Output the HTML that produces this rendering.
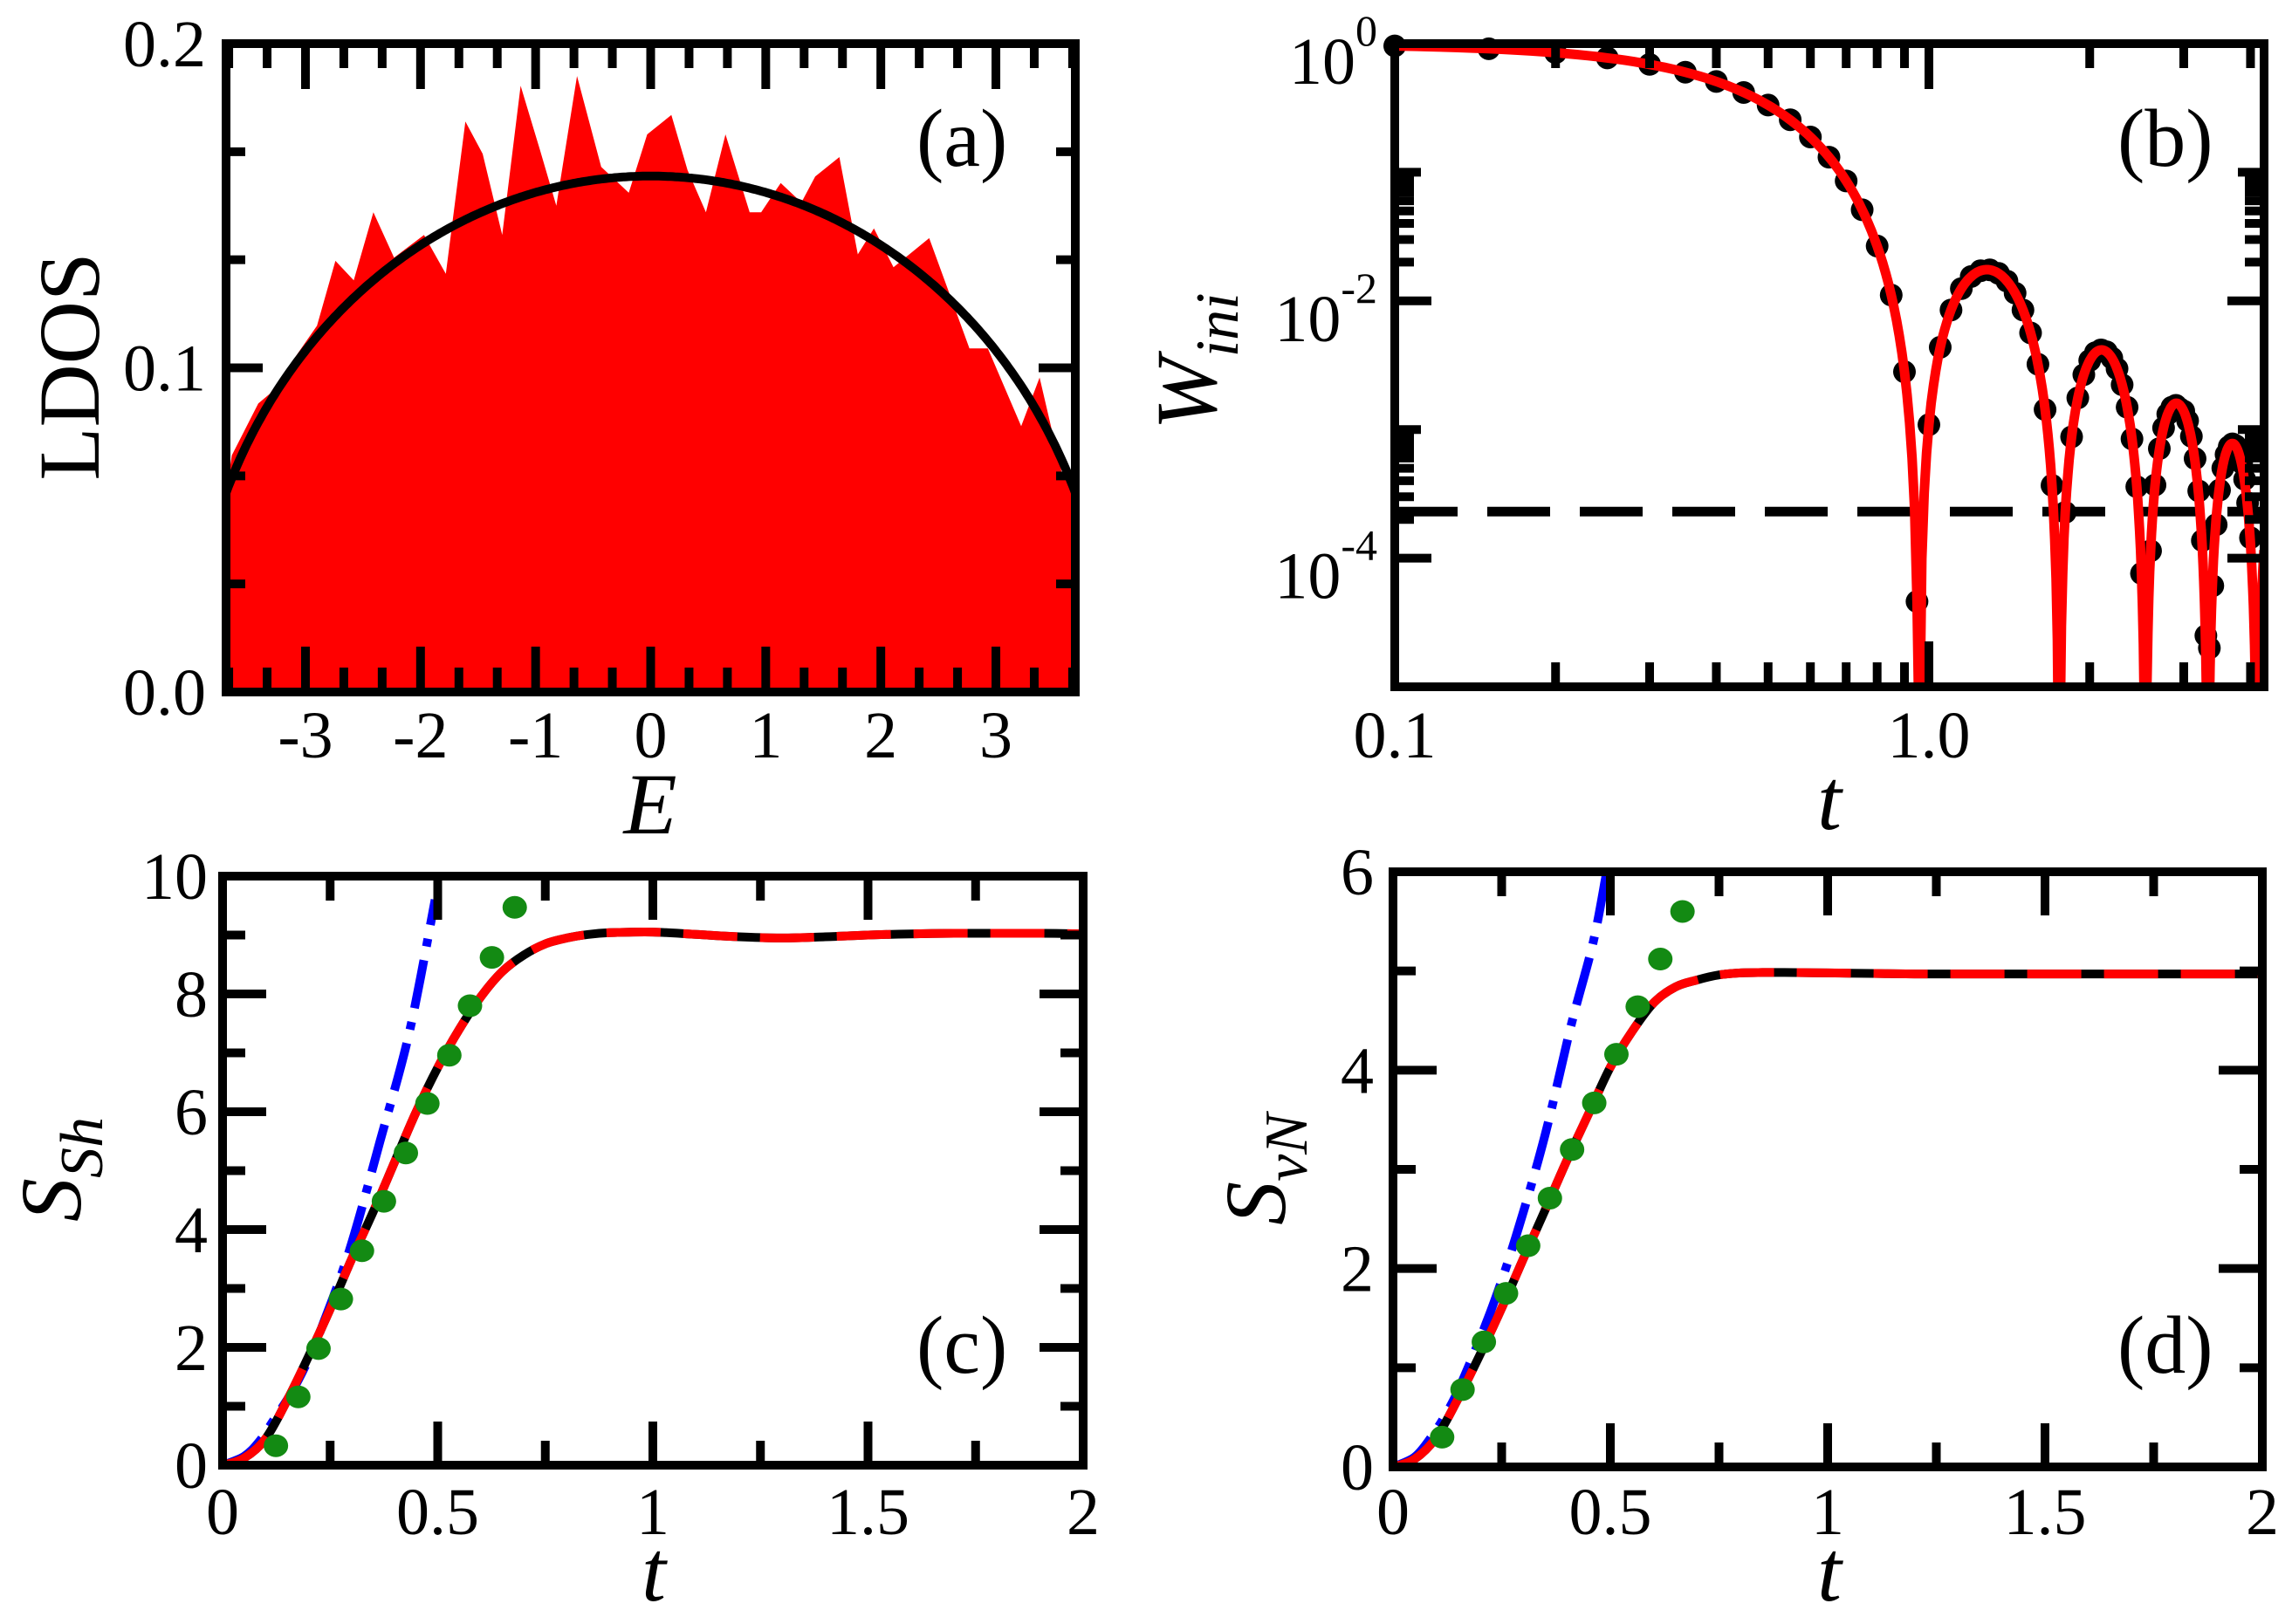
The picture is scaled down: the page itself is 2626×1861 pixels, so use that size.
<!DOCTYPE html>
<html><head><meta charset="utf-8"><style>
html,body{margin:0;padding:0;background:#fff;}
svg, svg text{font-family:"Liberation Serif","Times New Roman",serif;}
</style></head><body>
<svg id="fig" xmlns="http://www.w3.org/2000/svg" width="2626" height="1856" viewBox="0 0 2626 1856" font-family="Liberation Serif, serif">
<defs>
<clipPath id="clipB"><rect x="1598" y="50" width="996" height="737"/></clipPath>
<clipPath id="clipA"><rect x="259" y="50" width="973" height="743"/></clipPath>
</defs>
<g id="pa"></g>
<g id="pb"></g>
<g id="pc"></g>
<g id="pd"></g>

<text x="1050" y="190" font-size="94">(a)</text>
<text x="2426" y="190" font-size="94">(b)</text>
<text x="1050" y="1573" font-size="94">(c)</text>
<text x="2426" y="1573" font-size="94">(d)</text>

<text x="745" y="955" font-size="100" font-style="italic" text-anchor="middle">E</text>
<text x="2096" y="950" font-size="100" font-style="italic" text-anchor="middle">t</text>
<text x="749" y="1834" font-size="100" font-style="italic" text-anchor="middle">t</text>
<text x="2096" y="1834" font-size="100" font-style="italic" text-anchor="middle">t</text>

<text x="113" y="420" font-size="100" text-anchor="middle" transform="rotate(-90,113,420)">LDOS</text>
<text x="1393" y="414" font-size="100" font-style="italic" text-anchor="middle" transform="rotate(-90,1393,414)">W<tspan font-size="70" dy="25">ini</tspan></text>
<text x="92" y="1340" font-size="100" font-style="italic" text-anchor="middle" transform="rotate(-90,92,1340)">S<tspan font-size="70" dy="25">Sh</tspan></text>
<text x="1472" y="1340" font-size="100" font-style="italic" text-anchor="middle" transform="rotate(-90,1472,1340)">S<tspan font-size="70" dy="25">vN</tspan></text>
</svg>
<script>
// ---------- data: panel (a) ----------
const ldosE = [-3.69,-3.64,-3.41,-3.31,-2.9,-2.74,-2.58,-2.41,-2.23,-1.97,-1.78,-1.61,-1.46,-1.29,-1.13,-0.96,-0.82,-0.64,-0.43,-0.19,-0.03,0.18,0.32,0.48,0.65,0.86,0.96,1.13,1.31,1.43,1.64,1.80,1.94,2.11,2.42,2.77,2.93,3.22,3.38,3.57,3.69];
const ldosV = [0.061,0.073,0.089,0.092,0.113,0.133,0.127,0.148,0.134,0.141,0.129,0.176,0.166,0.141,0.187,0.167,0.150,0.190,0.162,0.154,0.172,0.178,0.161,0.148,0.172,0.148,0.148,0.157,0.151,0.159,0.165,0.135,0.143,0.131,0.140,0.106,0.106,0.082,0.097,0.068,0.060];
const semicircleRadius = 4.0;
const aXTicks = [-3,-2,-1,0,1,2,3];
const aXLabels = ["-3","-2","-1","0","1","2","3"];
const aYTicks = [0,0.1,0.2];
const aYLabels = ["0.0","0.1","0.2"];

// ---------- data: panel (b) ----------
const dotT = [0.10,0.15,0.20,0.25,0.30,0.35,0.40,0.45,0.50,0.55,0.60,0.65,0.70,0.75,0.80,0.85,0.90,0.95,1.00,1.05,1.10,1.15,1.20,1.25,1.30,1.35,1.40,1.45,1.50,1.55,1.60,1.65,1.70,1.80,1.85,1.90,1.95,2.00,2.05,2.10,2.15,2.20,2.25,2.30,2.35,2.40,2.45,2.50,2.60,2.65,2.70,2.75,2.80,2.85,2.90,2.95,3.00,3.05,3.10,3.15,3.20,3.25,3.30,3.35,3.40,3.45,3.50,3.55,3.60,3.65,3.70,3.75,3.80,3.85,3.90,3.95,4.00];
const dotW = [0.96,0.913,0.85,0.775,0.69,0.60,0.508,0.417,0.333,0.256,0.188,0.131,0.0856,0.0511,0.0267,0.0111,0.00281,0.000046,0.00109,0.00436,0.0085,0.01245,0.01547,0.01717,0.01742,0.01636,0.01425,0.0115,0.0085,0.00564,0.00322,0.00143,0.000368,0.000227,0.000877,0.00176,0.00267,0.00344,0.00396,0.00416,0.00402,0.0036,0.00297,0.00223,0.00149,0.000845,0.000359,0.000076,0.000114,0.00037,0.00071,0.00103,0.00132,0.00149,0.00154,0.00145,0.00139,0.00117,0.000886,0.000594,0.000333,0.000137,0.000025,0.00002,0.000061,0.000182,0.000338,0.000501,0.00064,0.000737,0.000773,0.00075,0.000671,0.000551,0.00041,0.000269,0.000144];
const bandFrequency = 4.0;
const saturationLevel = 0.00023;
const bXMajor = [0.1,1.0];
const bXLabels = ["0.1","1.0"];
const bYMajorExp = [0,-2,-4];
const bYLabels = ["0","-2","-4"];

// ---------- data: panel (c) ----------
const curveT = [0,0.05,0.1,0.15,0.2,0.25,0.3,0.35,0.4,0.45,0.5,0.55,0.6,0.65,0.7,0.75,0.8,0.85,0.9,1.0,1.1,1.2,1.3,1.4,1.5,1.6,1.7,1.8,1.9,2.0];
const shS = [0,0.12,0.45,1.1,1.85,2.65,3.5,4.3,5.15,6.0,6.75,7.4,7.95,8.38,8.66,8.85,8.95,9.01,9.04,9.05,9.01,8.97,8.95,8.97,9.0,9.02,9.03,9.03,9.03,9.02];
const cDotT = [0.124,0.176,0.223,0.275,0.324,0.375,0.426,0.476,0.527,0.575,0.626,0.679];
const cDotS = [0.33,1.16,1.98,2.82,3.64,4.48,5.3,6.14,6.96,7.8,8.62,9.47];
const cBlueT = [0,0.05,0.085,0.12,0.16,0.2,0.23,0.295,0.366,0.434,0.494];
const cBlueS = [0,0.15,0.4,0.78,1.23,1.8,2.33,3.65,5.5,7.35,9.6];
const cdXTicks = [0,0.5,1,1.5,2];
const cdXLabels = ["0","0.5","1","1.5","2"];
const cYTicks = [0,2,4,6,8,10];
const cYLabels = ["0","2","4","6","8","10"];

// ---------- data: panel (d) ----------
const vnS = [0,0.08,0.3,0.69,1.13,1.6,2.1,2.59,3.09,3.56,4.03,4.39,4.68,4.84,4.91,4.96,4.98,4.985,4.985,4.98,4.975,4.97,4.97,4.97,4.97,4.97,4.97,4.97,4.97,4.97];
const dDotT = [0.113,0.16,0.209,0.26,0.311,0.361,0.412,0.463,0.514,0.563,0.615,0.666];
const dDotS = [0.30,0.78,1.26,1.75,2.23,2.71,3.2,3.67,4.16,4.64,5.12,5.6];
const dBlueT = [0,0.05,0.088,0.12,0.155,0.223,0.282,0.35,0.409,0.46,0.49];
const dBlueS = [0,0.1,0.3,0.52,0.82,1.55,2.31,3.35,4.44,5.28,5.96];
const dYTicks = [0,2,4,6];
const dYLabels = ["0","2","4","6"];

const NS = 'http://www.w3.org/2000/svg';
const TICKFONT = 76;
function mk(tag, attrs, parent){
  const e = document.createElementNS(NS, tag);
  for (const k in attrs) e.setAttribute(k, attrs[k]);
  parent.appendChild(e);
  return e;
}
function smooth(pts){
  let d = 'M' + pts[0][0].toFixed(1) + ',' + pts[0][1].toFixed(1);
  for (let i = 0; i < pts.length - 1; i++){
    const p0 = pts[i-1] || pts[i], p1 = pts[i], p2 = pts[i+1], p3 = pts[i+2] || pts[i+1];
    const c1 = [p1[0] + (p2[0]-p0[0])/6, p1[1] + (p2[1]-p0[1])/6];
    const c2 = [p2[0] - (p3[0]-p1[0])/6, p2[1] - (p3[1]-p1[1])/6];
    d += 'C' + c1[0].toFixed(1)+','+c1[1].toFixed(1)+' '+c2[0].toFixed(1)+','+c2[1].toFixed(1)+' '+p2[0].toFixed(1)+','+p2[1].toFixed(1);
  }
  return d;
}
function tick(g, x1, y1, x2, y2, name){
  const l = mk('line', {x1:x1, y1:y1, x2:x2, y2:y2, stroke:'#000', 'stroke-width':10}, g);
  
  
}
function label(g, x, y, txt, anchor, name){
  const t = mk('text', {x:x, y:y, 'font-size':TICKFONT, 'text-anchor':anchor}, g);
  t.textContent = txt;
  
  
  return t;
}
function frame(g, L, T, R, B, name){
  const r = mk('rect', {x:L, y:T, width:R-L, height:B-T, fill:'none', stroke:'#000', 'stroke-width':10}, g);
  
  
}
const MAJ = 42, MIN = 22;

// ================= Panel (a) =================
(function(){
  const g = document.getElementById('pa');
  const L=259, R=1232, T=50, B=793, E0=-3.69, E1=3.69;
  const xa = e => L + (e - E0) / (E1 - E0) * (R - L);
  const ya = v => B - v / 0.2 * (B - T);
  let pts = [[xa(ldosE[0]), B]];
  for (let i = 0; i < ldosE.length; i++) pts.push([xa(ldosE[i]), ya(ldosV[i])]);
  pts.push([xa(ldosE[ldosE.length-1]), B]);
  const fill = mk('polygon', {points: pts.map(p => p[0].toFixed(1)+','+p[1].toFixed(1)).join(' '), fill:'#ff0000', 'clip-path':'url(#clipA)'}, g);
  
  
  let sc = [];
  for (let e = E0; e <= E1 + 1e-9; e += 0.02){
    const v = 2 / (Math.PI * semicircleRadius) * Math.sqrt(Math.max(0, 1 - (e/semicircleRadius)**2));
    sc.push((sc.length ? 'L' : 'M') + xa(e).toFixed(1) + ',' + ya(v).toFixed(1));
  }
  const scp = mk('path', {d: sc.join(''), fill:'none', stroke:'#000', 'stroke-width':10, 'clip-path':'url(#clipA)'}, g);
  
  
  for (let k = -11; k <= 11; k++){
    const e = k / 3; if (e < E0 || e > E1) continue;
    const len = (k % 3 === 0) ? MAJ + 10 : MIN + 6;
    tick(g, xa(e), B, xa(e), B - len, 'x-tick-bottom');
    tick(g, xa(e), T, xa(e), T + len, 'x-tick-top');
  }
  for (let k = 0; k <= 6; k++){
    const v = k * 0.1 / 3;
    const len = (k % 3 === 0) ? MAJ : MIN;
    tick(g, L, ya(v), L + len, ya(v), 'y-tick-left');
    tick(g, R, ya(v), R - len, ya(v), 'y-tick-right');
  }
  aXTicks.forEach((e, i) => label(g, xa(e), 868, aXLabels[i], 'middle', 'x-tick-label'));
  aYTicks.forEach((v, i) => label(g, 236, ya(v) + 26, aYLabels[i], 'end', 'y-tick-label'));
  frame(g, L, T, R, B, 'plot-frame-a');
})();

// ================= Panel (b) =================
(function(){
  const g = document.getElementById('pb');
  const L=1598, R=2594, T=50, B=787, DEC=612, YDEC=(B-T)/5;
  const xb = t => L + (Math.log10(t) + 1) * DEC;
  const yb = w => T + (-Math.log10(w)) * YDEC;
  function J1(x){
    const N = 200; let s = 0;
    for (let i = 0; i <= N; i++){
      const tau = Math.PI * i / N, w = (i === 0 || i === N) ? 0.5 : 1;
      s += w * Math.cos(tau - x * Math.sin(tau));
    }
    return s / N;
  }
  const tMax = Math.pow(10, (R - L) / DEC - 1);
  let d = [];
  for (let t = 0.1; t <= tMax + 1e-9; t += 0.01){
    const x = bandFrequency * t;
    let w = Math.pow(2 * J1(x) / x, 2);
    w = Math.max(w, 1e-6);
    d.push((d.length ? 'L' : 'M') + xb(t).toFixed(1) + ',' + yb(w).toFixed(1));
  }
  dotT.forEach((t, i) => {
    if (dotW[i] < 1e-5) return;
    const c = mk('circle', {cx: xb(t), cy: yb(dotW[i]), r: 13, fill:'#000'}, g);
    
    
  });
  const dash = mk('line', {x1:L, y1:yb(saturationLevel), x2:R, y2:yb(saturationLevel), stroke:'#000', 'stroke-width':11, 'stroke-dasharray':'72 34'}, g);
  
  
  const rc = mk('path', {d: d.join(''), fill:'none', stroke:'#ff0000', 'stroke-width':11, 'stroke-linejoin':'round', 'clip-path':'url(#clipB)'}, g);
  
  
  for (let dec = -1; dec <= 0; dec++){
    for (let m = 1; m <= 9; m++){
      const t = m * Math.pow(10, dec);
      const x = xb(t); if (x > R + 1) continue;
      const len = (m === 1) ? MAJ + 10 : MIN + 6;
      tick(g, x, B, x, B - len, 'x-tick-bottom');
      tick(g, x, T, x, T + len, 'x-tick-top');
    }
  }
  for (let e = 0; e >= -5; e--){
    const y = yb(Math.pow(10, e));
    const len = (e % 2 === 0) ? MAJ : MIN + 8;
    tick(g, L, y, L + len, y, 'y-tick-left');
    tick(g, R, y, R - len, y, 'y-tick-right');
  }
  [-2, -4].forEach(e => {
    for (let m = 2; m <= 9; m++){
      const y = yb(m * Math.pow(10, e));
      tick(g, L, y, L + MIN, y, 'y-minor-tick-left');
      tick(g, R, y, R - MIN, y, 'y-minor-tick-right');
    }
  });
  bXMajor.forEach((t, i) => label(g, xb(t), 868, bXLabels[i], 'middle', 'x-tick-label'));
  bYMajorExp.forEach((e, i) => {
    const y = yb(Math.pow(10, e));
    const txt = mk('text', {x: 1578, y: y + 46, 'font-size':TICKFONT, 'text-anchor':'end'}, g);
    
    
    txt.appendChild(document.createTextNode('10'));
    const sp = mk('tspan', {'font-size':50, dy:-44}, txt);
    sp.textContent = bYLabels[i];
  });
  frame(g, L, T, R, B, 'plot-frame-b');
})();

// ================= Panels (c), (d) =================
function entropyPanel(gid, L, T, R, B, ymax, yMajor, yLabels, S, dT, dS, bT, bS, labelRight, fname){
  const g = document.getElementById(gid);
  const xs = t => L + t / 2 * (R - L);
  const ys = s => B - s / ymax * (B - T);
  const blue = mk('path', {d: smooth(bT.map((t,i)=>[xs(t), ys(bS[i])])), fill:'none', stroke:'#0000ff', 'stroke-width':10, 'stroke-dasharray':'56 16 9 16'}, g);
  
  
  const pd = smooth(curveT.map((t,i)=>[xs(t), ys(S[i])]));
  const bl = mk('path', {d: pd, fill:'none', stroke:'#000', 'stroke-width':10}, g);
  
  
  const rd = mk('path', {d: pd, fill:'none', stroke:'#ff0000', 'stroke-width':10, 'stroke-dasharray':'62 26'}, g);
  
  
  dT.forEach((t, i) => {
    const c = mk('ellipse', {cx: xs(t), cy: ys(dS[i]), rx: 14, ry: 13, fill:'#138a13'}, g);
    
    
  });
  for (let k = 0; k <= 8; k++){
    const t = k * 0.25;
    const len = (k % 2 === 0) ? MAJ + 8 : MIN + 6;
    tick(g, xs(t), B, xs(t), B - len, 'x-tick-bottom');
    tick(g, xs(t), T, xs(t), T + len, 'x-tick-top');
  }
  for (let s = 0; s <= ymax; s++){
    const len = (s % 2 === 0) ? MAJ + 8 : MIN + 4;
    tick(g, L, ys(s), L + len, ys(s), 'y-tick-left');
    tick(g, R, ys(s), R - len, ys(s), 'y-tick-right');
  }
  cdXTicks.forEach((t, i) => label(g, xs(t), 1758, cdXLabels[i], 'middle', 'x-tick-label'));
  yMajor.forEach((s, i) => label(g, labelRight, ys(s) + 26, yLabels[i], 'end', 'y-tick-label'));
  frame(g, L, T, R, B, fname);
}
entropyPanel('pc', 255, 1004, 1241, 1679, 10, cYTicks, cYLabels, shS, cDotT, cDotS, cBlueT, cBlueS, 238, 'plot-frame-c');
entropyPanel('pd', 1596, 999, 2592, 1681, 6, dYTicks, dYLabels, vnS, dDotT, dDotS, dBlueT, dBlueS, 1574, 'plot-frame-d');
</script>
</body></html>
